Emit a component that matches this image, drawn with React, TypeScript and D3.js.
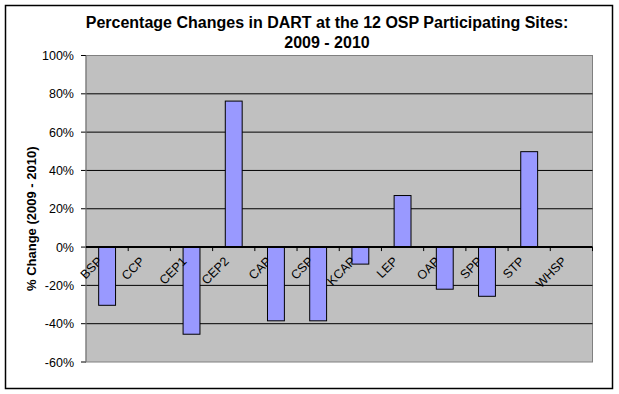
import React from "react";
import * as d3 from "d3";

const categories = ["BSP", "CCP", "CEP1", "CEP2", "CAP", "CSP", "KCAP", "LEP", "OAP", "SPP", "STP", "WHSP"];
const values = [-30.4, 0, -45.5, 76.2, -38.5, -38.5, -8.9, 26.9, -22, -25.7, 49.8, 0];
const yTicks = [-60, -40, -20, 0, 20, 40, 60, 80, 100];
const titleLines = ["Percentage Changes in DART at the 12 OSP Participating Sites:", "2009 - 2010"];
const yTitle = "%  Change (2009 - 2010)";

const W = 619, H = 394;
const M = { left: 86, right: 592.5, top: 55.5, bottom: 362 };
const FONT = "Arial, 'Liberation Sans', sans-serif";

export default function App() {
  const x = d3.scaleBand<string>().domain(categories).range([M.left, M.right]).paddingInner(0.6).paddingOuter(0.3);
  const xb = d3.scaleBand<string>().domain(categories).range([M.left, M.right]);
  const y = d3.scaleLinear().domain([-60, 100]).range([M.bottom, M.top]);
  const y0 = y(0);
  return (
    <svg width={W} height={H} style={{ position: "absolute", left: 0, top: 0 }} fontFamily={FONT}>
      <rect x={0} y={0} width={W} height={H} fill="#fff" />
      <rect x={5.5} y={5.5} width={607} height={383} fill="#fff" stroke="#000" strokeWidth={1.5} />
      {titleLines.map((t, i) => (
        <text key={i} x={327} y={28 + i * 20} textAnchor="middle" fontSize={16} fontWeight="bold" fill="#000">{t}</text>
      ))}
      <rect x={M.left} y={M.top} width={M.right - M.left} height={M.bottom - M.top} fill="#C0C0C0" stroke="#808080" strokeWidth={1} />
      {yTicks.filter(t => t !== -60 && t !== 100 && t !== 0).map(t => (
        <line key={t} x1={M.left} x2={M.right} y1={y(t)} y2={y(t)} stroke="#000" strokeWidth={1} />
      ))}
      {yTicks.map(t => (
        <g key={"yt" + t}>
          <line x1={M.left - 5} x2={M.left} y1={y(t)} y2={y(t)} stroke="#000" />
          <text x={74} y={y(t) + 4.5} textAnchor="end" fontSize={12.5} fill="#000">{t + "%"}</text>
        </g>
      ))}
      <line x1={M.left} x2={M.left} y1={M.top} y2={M.bottom} stroke="#808080" />
      {categories.map((c, i) => (
        <rect key={c} x={x(c)} y={Math.min(y(values[i]), y0)} width={x.bandwidth()} height={Math.abs(y(values[i]) - y0)} fill="#9999FF" stroke="#000" strokeWidth={1} />
      ))}
      <line x1={M.left} x2={M.right} y1={y0} y2={y0} stroke="#000" strokeWidth={2} />
      {categories.map(c => (
        <line key={"xt" + c} x1={(xb(c) as number) + xb.bandwidth()} x2={(xb(c) as number) + xb.bandwidth()} y1={y0} y2={y0 + 4} stroke="#000" />
      ))}
      {categories.map(c => {
        const cx = (xb(c) as number) + xb.bandwidth() / 2;
        return (
          <text key={"xl" + c} transform={`translate(${cx - 4},${y0 + 15}) rotate(-45)`} textAnchor="end" fontSize={12.5} fill="#000">{c}</text>
        );
      })}
      <text transform={`translate(36,${(M.top + M.bottom) / 2 + 10}) rotate(-90)`} textAnchor="middle" fontSize={13} fontWeight="bold" fill="#000">{yTitle}</text>
    </svg>
  );
}
